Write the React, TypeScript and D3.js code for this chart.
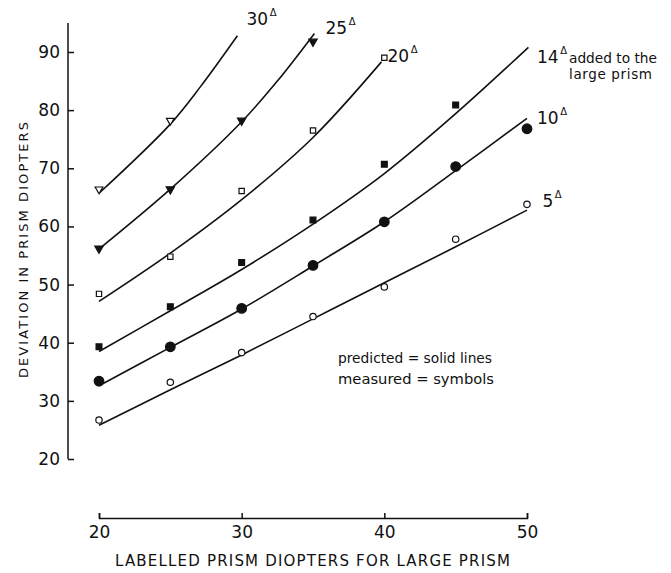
import React from "react";
import * as d3 from "d3";
import { useEffect, useRef } from "react";

// labelled prism diopters (large prism) where deviation was measured
const labelledPrism = [20, 25, 30, 35, 40, 45, 50];

// measured deviation (symbols), one list per added prism
const measured5 = [26.7, 33.2, 38.3, 44.5, 49.6, 57.8, 63.8];
const measured10 = [33.4, 39.3, 45.9, 53.3, 60.8, 70.3, 76.8];
const measured14 = [39.3, 46.2, 53.8, 61.1, 70.7, 80.9];
const measured20 = [48.4, 54.8, 66.1, 76.5, 89.0];
const measured25 = [56.2, 66.4, 78.2, 91.8];
const measured30 = [66.4, 78.2];

// predicted deviation (solid lines), [labelled prism, deviation]
const predicted5 = [[20, 25.8], [25, 31.9], [30, 37.9], [35, 44.1], [40, 50.3], [45, 56.5], [50, 62.8]];
const predicted10 = [[20, 32.6], [25, 39.2], [30, 45.8], [35, 53.2], [40, 60.8], [45, 69.6], [50, 78.6]];
const predicted14 = [[20, 38.5], [25, 45.5], [30, 52.6], [35, 60.4], [40, 69.1], [45, 79.4], [50.1, 90.8]];
const predicted20 = [[20, 47.1], [25, 55.4], [30, 64.6], [35, 75.3], [39.8, 88.3]];
const predicted25 = [[20, 56.1], [25, 66.4], [30, 78.0], [32.5, 85.0], [35.1, 93.2]];
const predicted30 = [[20, 65.7], [25, 77.6], [27.1, 84.0], [29.7, 92.8]];

const xTicks = [20, 30, 40, 50];
const yTicks = [20, 30, 40, 50, 60, 70, 80, 90];

const width = 671;
const height = 573;
const font = "'DejaVu Sans', sans-serif";

export default function App() {
  const svgRef = useRef<SVGSVGElement>(null);

  useEffect(() => {
    const svg = d3.select(svgRef.current);
    svg.selectAll("*").remove();

    const x = d3.scaleLinear().domain([20, 50]).range([99, 527]);
    const y = d3.scaleLinear().domain([20, 90]).range([459, 52]);

    const series = [
      { name: "30", measured: measured30, predicted: predicted30, mark: "triOpen" },
      { name: "25", measured: measured25, predicted: predicted25, mark: "triFilled" },
      { name: "20", measured: measured20, predicted: predicted20, mark: "sqOpen" },
      { name: "14", measured: measured14, predicted: predicted14, mark: "sqFilled" },
      { name: "10", measured: measured10, predicted: predicted10, mark: "dotBig" },
      { name: "5", measured: measured5, predicted: predicted5, mark: "dotOpen" },
    ];

    // y axis: labels left, ticks pointing inward
    const yAxis = d3
      .axisLeft(y)
      .tickValues(yTicks)
      .tickSizeInner(-6)
      .tickSizeOuter(0)
      .tickPadding(8)
      .tickFormat((d) => String(d));

    const gy = svg.append("g").attr("transform", "translate(68,0)").call(yAxis);
    gy.select(".domain").remove();
    gy.append("line")
      .attr("x1", 0)
      .attr("x2", 0)
      .attr("y1", y(20))
      .attr("y2", y(95))
      .attr("stroke", "#111");
    gy.selectAll("line").attr("stroke", "#111").attr("stroke-width", 1.5);
    gy.selectAll("text")
      .attr("font-family", font)
      .attr("font-size", 17)
      .attr("fill", "#111");

    // x axis: separate, ticks up
    const xAxis = d3
      .axisBottom(x)
      .tickValues(xTicks)
      .tickSizeInner(-5)
      .tickSizeOuter(-5)
      .tickPadding(8)
      .tickFormat((d) => String(d));

    const gx = svg.append("g").attr("transform", "translate(0,518)").call(xAxis);
    gx.selectAll("line,path").attr("stroke", "#111").attr("stroke-width", 1.5);
    gx.selectAll("text")
      .attr("font-family", font)
      .attr("font-size", 17)
      .attr("fill", "#111");

    // predicted lines
    const line = d3
      .line<number[]>()
      .x((d) => x(d[0]))
      .y((d) => y(d[1]))
      .curve(d3.curveCatmullRom.alpha(0.5));

    svg
      .append("g")
      .selectAll("path")
      .data(series)
      .enter()
      .append("path")
      .attr("d", (s) => line(s.predicted))
      .attr("fill", "none")
      .attr("stroke", "#111")
      .attr("stroke-width", 1.6);

    // measured symbols
    const triangle = d3.symbol().type(d3.symbolTriangle);
    const square = d3.symbol().type(d3.symbolSquare);

    series.forEach((s) => {
      const g = svg.append("g");
      s.measured.forEach((v, i) => {
        const cx = x(labelledPrism[i]);
        const cy = y(v);
        if (s.mark === "triOpen" || s.mark === "triFilled") {
          const filled = s.mark === "triFilled";
          g.append("path")
            .attr("d", triangle.size(filled ? 30 : 26)())
            .attr("transform", `translate(${cx},${cy}) rotate(180)`)
            .attr("fill", filled ? "#111" : "#fff")
            .attr("stroke", "#111")
            .attr("stroke-width", 1.2);
        } else if (s.mark === "sqOpen" || s.mark === "sqFilled") {
          const filled = s.mark === "sqFilled";
          g.append("path")
            .attr("d", square.size(filled ? 34 : 28)())
            .attr("transform", `translate(${cx},${cy})`)
            .attr("fill", filled ? "#111" : "#fff")
            .attr("stroke", "#111")
            .attr("stroke-width", 1.2);
        } else {
          const big = s.mark === "dotBig";
          g.append("circle")
            .attr("cx", cx)
            .attr("cy", cy)
            .attr("r", big ? 4.8 : 3.2)
            .attr("fill", big ? "#111" : "#fff")
            .attr("stroke", "#111")
            .attr("stroke-width", 1.2);
        }
      });
    });

    // series labels with a small prism-diopter triangle
    const labelPos: Record<string, [number, number]> = {
      "30": [246.5, 25],
      "25": [325.5, 34],
      "20": [387.5, 62],
      "14": [537, 63],
      "10": [537, 124],
      "5": [542.5, 207],
    };
    series.forEach((s) => {
      const [lx, ly] = labelPos[s.name];
      const t = svg
        .append("text")
        .attr("x", lx)
        .attr("y", ly)
        .attr("font-family", font)
        .attr("font-size", 17)
        .attr("fill", "#111")
        .text(s.name);
      t.append("tspan")
        .attr("dx", 1.5)
        .attr("dy", -9)
        .attr("font-size", 10)
        .text("Δ");
    });

    svg
      .append("text")
      .attr("x", 569)
      .attr("y", 62.5)
      .attr("font-family", font)
      .attr("font-size", 13.5)
      .attr("fill", "#111")
      .attr("textLength", 88)
      .attr("lengthAdjust", "spacingAndGlyphs")
      .text("added to the");
    svg
      .append("text")
      .attr("x", 569)
      .attr("y", 79)
      .attr("font-family", font)
      .attr("font-size", 13.5)
      .attr("fill", "#111")
      .attr("textLength", 83)
      .attr("lengthAdjust", "spacing")
      .text("large prism");

    // legend note
    svg
      .append("text")
      .attr("x", 338)
      .attr("y", 363)
      .attr("font-family", font)
      .attr("font-size", 14)
      .attr("fill", "#111")
      .attr("textLength", 154)
      .attr("lengthAdjust", "spacingAndGlyphs")
      .text("predicted = solid lines");
    svg
      .append("text")
      .attr("x", 338)
      .attr("y", 384)
      .attr("font-family", font)
      .attr("font-size", 14)
      .attr("fill", "#111")
      .attr("textLength", 156)
      .attr("lengthAdjust", "spacingAndGlyphs")
      .text("measured = symbols");

    // axis titles
    svg
      .append("text")
      .attr("transform", "translate(27.5,250) rotate(-90)")
      .attr("text-anchor", "middle")
      .attr("font-family", font)
      .attr("font-size", 13)
      .attr("fill", "#111")
      .attr("textLength", 256)
      .attr("lengthAdjust", "spacing")
      .text("DEVIATION IN PRISM DIOPTERS");
    svg
      .append("text")
      .attr("x", 312.5)
      .attr("y", 566)
      .attr("text-anchor", "middle")
      .attr("font-family", font)
      .attr("font-size", 15)
      .attr("fill", "#111")
      .attr("textLength", 395)
      .attr("lengthAdjust", "spacing")
      .text("LABELLED PRISM DIOPTERS FOR LARGE PRISM");
  }, []);

  return (
    <svg
      ref={svgRef}
      width={width}
      height={height}
      style={{ position: "absolute", left: 0, top: 0, background: "#fff" }}
    ></svg>
  );
}
